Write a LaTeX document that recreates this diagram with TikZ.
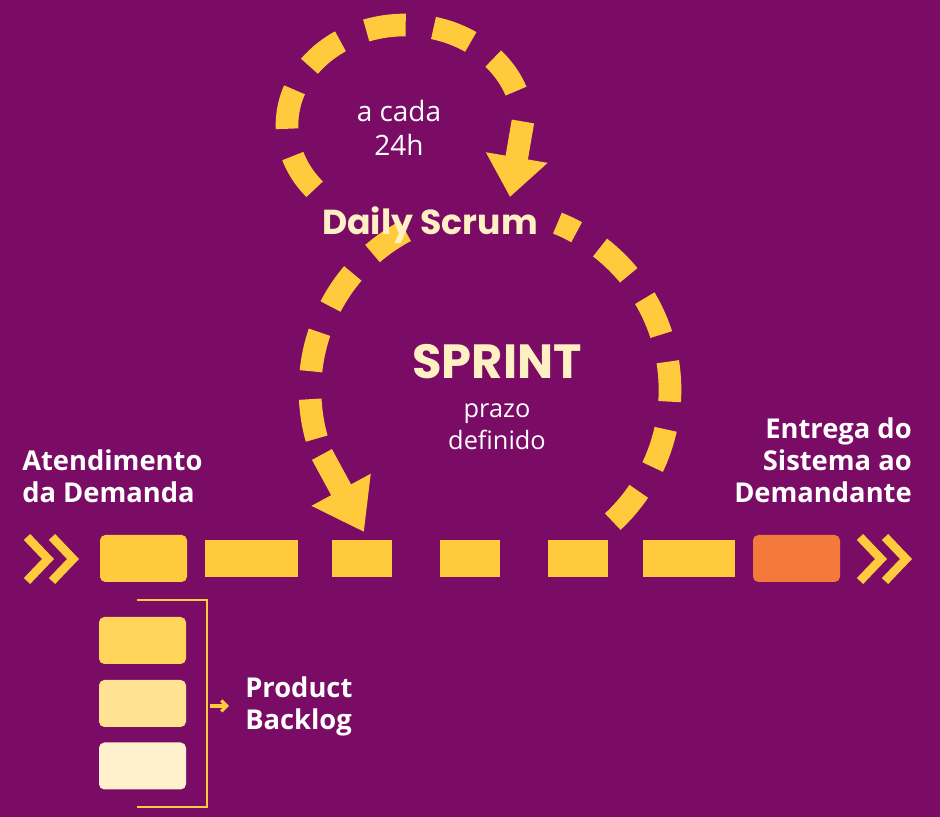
\documentclass[tikz,border=0pt]{standalone}
\usepackage{fontspec}
\setmainfont{Open Sans}
\newfontfamily\headfont{Poppins}[UprightFont=*-SemiBold,BoldFont=*-Bold]
\usetikzlibrary{arrows.meta,positioning}
\definecolor{bgpurple}{HTML}{7A0C66}
\definecolor{scrumyellow}{HTML}{FFCB3D}
\definecolor{deliverorange}{HTML}{F47A3C}
\definecolor{creamtext}{HTML}{FFF0C4}
\definecolor{backlogA}{HTML}{FFD659}
\definecolor{backlogB}{HTML}{FFE392}
\definecolor{backlogC}{HTML}{FFF1CB}
\tikzset{
  blockbox/.style={rounded corners=4pt,fill=scrumyellow,draw=none,minimum height=35.25pt,inner sep=0pt},
  dashbox/.style={fill=scrumyellow,draw=none,minimum height=27.75pt,inner sep=0pt},
  loopline/.style={scrumyellow,line width=17pt,dash pattern=on 30pt off 21pt},
  tipline/.style={scrumyellow,line width=17pt},
  chevron/.style={scrumyellow,line width=6.5pt},
  label/.style={text=white,font=\bfseries\fontsize{20.5}{24}\selectfont,align=left,inner sep=0pt}
}
\begin{document}
\begin{tikzpicture}[x=0.75pt,y=0.75pt]
\fill[bgpurple] (0,0) rectangle (940,817);
\useasboundingbox (0,0) rectangle (940,817);
% strip
\node[blockbox,minimum width=65.25pt] (start) at (143.5,258.5) {};
\node[dashbox,minimum width=69.75pt] (d1) at (251.5,258.5) {};
\node[dashbox,minimum width=45pt] (d2) at (362,258.5) {};
\node[dashbox,minimum width=45pt] (d3) at (470,258.5) {};
\node[dashbox,minimum width=45pt] (d4) at (578,258.5) {};
\node[dashbox,minimum width=69pt] (d5) at (689,258.5) {};
\node[blockbox,fill=deliverorange,minimum width=65.25pt] (finish) at (796.5,258.5) {};
% chevrons
\foreach \cx in {27,52,860,885}
  \draw[chevron] (\cx,280) -- (\cx+21,258) -- (\cx,236);
% backlog
\node[blockbox,fill=backlogA,minimum width=65.25pt] (b1) at (142.5,176.5) {};
\node[blockbox,fill=backlogB,minimum width=65.25pt] (b2) at (142.5,113.5) {};
\node[blockbox,fill=backlogC,minimum width=65.25pt] (b3) at (142.5,51) {};
\coordinate (btop) at (137,217);
\coordinate (bbot) at (137,10);
\draw[scrumyellow,line width=1.5pt] (btop) -| (207,10) -- (bbot);
\node[label,anchor=west] (backlog) at (245,111) {Product\\Backlog};
\draw[scrumyellow,line width=2.5pt,-{Straight Barb[length=4pt,width=8pt]}] (210,111) -- ([xshift=-12pt]backlog.west);
% labels
\node[label,anchor=west] (atend) at (22,341) {Atendimento\\da Demanda};
\node[label,anchor=east,align=right] (entrega) at (912,357) {Entrega do\\Sistema ao\\Demandante};
% sprint loop
\draw[loopline] (490,427) ++(-47:180) arc (-47:68:180);
\draw[loopline] (490,427) ++(118:180) arc (118:198:180);
\coordinate (sprinttip) at (364,285);
\draw[tipline,-{Triangle[length=36pt,width=48pt]}] (490,427) ++(201:180) -- (sprinttip);
\node[text=creamtext,font=\headfont\bfseries\fontsize{36}{40}\selectfont] (sprint) at (497,455) {SPRINT};
\node[text=white,font=\fontsize{19}{24}\selectfont,align=center] (prazo) at (497,390) {prazo\\definido};
% daily loop
\draw[loopline] (405,692) ++(220:118 and 100) arc (220:6:118 and 100);
\coordinate (dailytip) at (510,620);
\draw[tipline,-{Triangle[length=30pt,width=45pt]}] (405,692) ++(2:118 and 100) -- (dailytip);
\node[text=creamtext,font=\headfont\bfseries\fontsize{26}{30}\selectfont] (daily) at (430,592) {Daily Scrum};
\node[text=white,font=\fontsize{21}{25}\selectfont,align=center] (cada) at (399,689) {a cada\\24h};
\end{tikzpicture}
\end{document}
